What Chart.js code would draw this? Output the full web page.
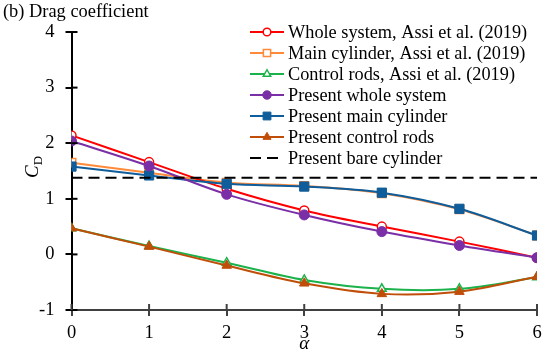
<!DOCTYPE html>
<html>
<head>
<meta charset="utf-8">
<script src="https://cdn.jsdelivr.net/npm/chart.js@4/dist/chart.umd.min.js"></script>
<style>
  html, body { margin: 0; padding: 0; background: #fff; }
  #wrap { position: relative; width: 550px; height: 355px; }
</style>
</head>
<body>
<div id="wrap"><canvas id="dragChart" width="550" height="355"></canvas></div>
<script>
// alpha values (x axis)
const alpha = [0, 1, 2, 3, 4, 5, 6];

// Assi et al. (2019)
const wholeAssi = [2.14, 1.66, 1.18, 0.79, 0.50, 0.23, -0.06];
const mainAssi = [1.65, 1.47, 1.29, 1.23, 1.10, 0.81, 0.34];
const rodsAssi = [0.47, 0.15, -0.15, -0.46, -0.62, -0.62, -0.41];

// present results
const wholePresent = [2.04, 1.59, 1.08, 0.71, 0.41, 0.16, -0.06];
const mainPresent = [1.58, 1.42, 1.27, 1.22, 1.11, 0.82, 0.34];
const rodsPresent = [0.47, 0.14, -0.20, -0.52, -0.71, -0.67, -0.40];

// bare cylinder reference line
const bareAlpha = [0, 6];
const bareCd = [1.38, 1.38];

const xTicks = [0, 1, 2, 3, 4, 5, 6];
const yTicks = [-1, 0, 1, 2, 3, 4];

const serif = "'Liberation Serif', 'Times New Roman', serif";

function pts(xs, ys) {
  return xs.map((x, i) => ({ x: x, y: ys[i] }));
}

function series(label, ys, color, style, radius, filled, order) {
  return {
    label: label,
    data: pts(alpha, ys),
    borderColor: color,
    backgroundColor: filled ? color : "#ffffff",
    pointBackgroundColor: filled ? color : "#ffffff",
    pointBorderColor: color,
    pointBorderWidth: filled ? 1 : 1.5,
    pointStyle: style,
    pointRadius: radius,
    borderWidth: 2,
    tension: 0.35,
    order: order
  };
}

const datasets = [
  series("Whole system, Assi et al. (2019)", wholeAssi, "#ff0000", "circle", 4.5, false, 3),
  series("Main cylinder, Assi et al. (2019)", mainAssi, "#ff8a3a", "rect", 6, false, 3),
  series("Control rods, Assi et al. (2019)", rodsAssi, "#1cb24b", "triangle", 5, false, 3),
  series("Present whole system", wholePresent, "#7a2fa6", "circle", 5, true, 2),
  series("Present main cylinder", mainPresent, "#0f5d9a", "rect", 6.5, true, 2),
  series("Present control rods", rodsPresent, "#c04e08", "triangle", 5.5, true, 2),
  {
    label: "Present bare cylinder",
    data: pts(bareAlpha, bareCd),
    borderColor: "#000000",
    borderWidth: 2,
    borderDash: [11, 6],
    pointRadius: 0,
    order: 1
  }
];

// small marker for the legend rows
function drawMarker(ctx, style, r, x, y) {
  ctx.beginPath();
  if (style === "circle") {
    ctx.arc(x, y, r, 0, Math.PI * 2);
  } else if (style === "rect") {
    const h = r * Math.SQRT1_2;
    ctx.rect(x - h, y - h, 2 * h, 2 * h);
  } else if (style === "triangle") {
    ctx.moveTo(x, y - r);
    ctx.lineTo(x + r * 0.866, y + r * 0.5);
    ctx.lineTo(x - r * 0.866, y + r * 0.5);
    ctx.closePath();
  }
  ctx.fill();
  ctx.stroke();
}

// legend, inner tick halves and titles drawn on the canvas
const decorations = {
  id: "decorations",
  afterDraw(chart) {
    const ctx = chart.ctx;
    const xs = chart.scales.x;
    const ys = chart.scales.y;
    const area = chart.chartArea;

    ctx.save();
    // inner half of the tick marks (outer half is drawn by the scales)
    ctx.fillStyle = "#000000";
    for (const v of yTicks) {
      const py = ys.getPixelForValue(v);
      ctx.fillRect(area.left, py - 1, 6, 2);
    }
    ctx.fillStyle = "#404040";
    for (const v of xTicks) {
      const px = xs.getPixelForValue(v);
      ctx.fillRect(px - 1, area.bottom - 6, 2, 6);
    }

    // panel title
    ctx.fillStyle = "#000000";
    ctx.textAlign = "left";
    ctx.textBaseline = "alphabetic";
    ctx.font = "18.4px " + serif;
    ctx.fillText("(b) Drag coefficient", 3, 17);

    // x title
    ctx.textAlign = "center";
    ctx.font = "italic 19px " + serif;
    ctx.fillText("\u03b1", xs.getPixelForValue(3), 349);

    // y title: C with subscript D, rotated
    ctx.save();
    ctx.translate(38, 178);
    ctx.rotate(-Math.PI / 2);
    ctx.textAlign = "left";
    ctx.font = "italic 19px " + serif;
    ctx.fillText("C", 0, 0);
    const cw = ctx.measureText("C").width;
    ctx.font = "13px " + serif;
    ctx.fillText("D", cw, 4);
    ctx.restore();

    // legend
    const lx0 = 250, lx1 = 284, tx = 288, row0 = 32, rowH = 21;
    chart.data.datasets.forEach((ds, i) => {
      const y = row0 + i * rowH;
      ctx.save();
      ctx.strokeStyle = ds.borderColor;
      ctx.lineWidth = 2;
      ctx.setLineDash(ds.borderDash || []);
      ctx.beginPath();
      ctx.moveTo(lx0, y);
      ctx.lineTo(lx1, y);
      ctx.stroke();
      ctx.setLineDash([]);
      if (ds.pointRadius) {
        ctx.fillStyle = ds.pointBackgroundColor;
        ctx.strokeStyle = ds.pointBorderColor;
        ctx.lineWidth = ds.pointBorderWidth;
        drawMarker(ctx, ds.pointStyle, ds.pointRadius * 0.85, (lx0 + lx1) / 2, y);
      }
      ctx.restore();
      ctx.fillStyle = "#000000";
      ctx.textAlign = "left";
      ctx.textBaseline = "middle";
      ctx.font = "18.3px " + serif;
      ctx.fillText(ds.label, tx, y + 1);
    });
    ctx.restore();
  }
};

new Chart(document.getElementById("dragChart").getContext("2d"), {
  type: "line",
  data: { datasets: datasets },
  plugins: [decorations],
  options: {
    responsive: false,
    animation: false,
    layout: { padding: { left: 0, top: 32, right: 13, bottom: 0 } },
    plugins: {
      legend: { display: false },
      tooltip: { enabled: false }
    },
    elements: { point: { hoverRadius: 0 } },
    scales: {
      x: {
        type: "linear",
        min: 0,
        max: 6,
        afterFit: s => { s.height = 45; },
        afterBuildTicks: s => { s.ticks = xTicks.map(v => ({ value: v })); },
        grid: { display: true, drawOnChartArea: false, drawTicks: true, tickLength: 6, color: "#404040", lineWidth: 2 },
        border: { display: true, color: "#404040", width: 2 },
        ticks: {
          padding: 6,
          color: "#000000",
          font: { family: serif, size: 18.5 }
        }
      },
      y: {
        type: "linear",
        min: -1,
        max: 4,
        afterFit: s => { s.width = 71.5; },
        afterBuildTicks: s => { s.ticks = yTicks.map(v => ({ value: v })); },
        grid: { display: true, drawOnChartArea: false, drawTicks: true, tickLength: 6, color: "#000000", lineWidth: 2 },
        border: { display: true, color: "#000000", width: 2 },
        ticks: {
          padding: 11,
          color: "#000000",
          font: { family: serif, size: 18.5 }
        }
      }
    }
  }
});
</script>
</body>
</html>
